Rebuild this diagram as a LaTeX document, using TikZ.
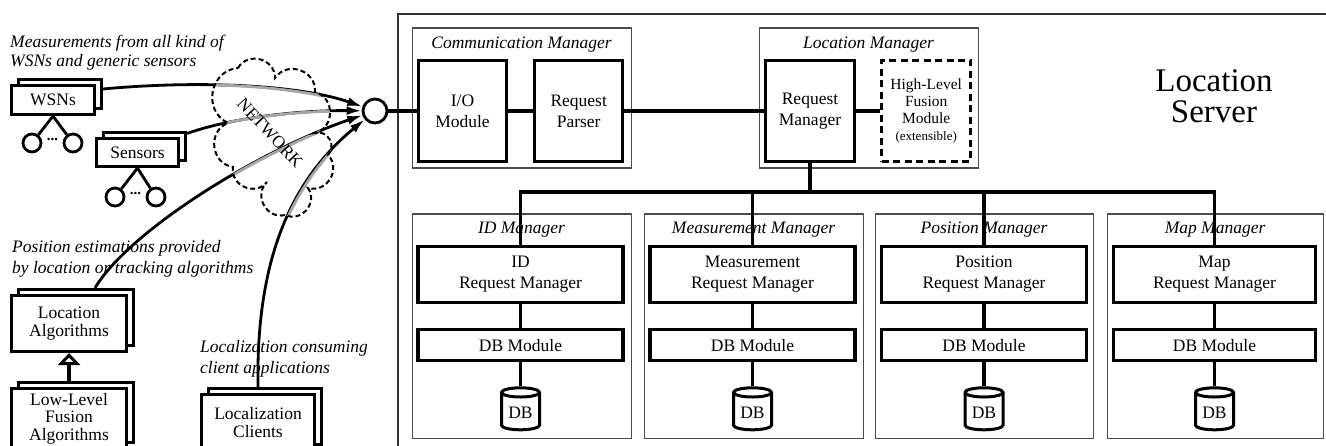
\documentclass[tikz,border=0pt]{standalone}
\usepackage{fontspec}
\setmainfont{Liberation Serif}
\usepackage{tikz}
\usetikzlibrary{shapes.geometric, arrows.meta, positioning, shadows}

% outline of the network cloud (pixel grid of the layout)
\newcommand{\netcloud}{(238,68) to[puff] (275,78) to[puff] (315,92) to[puff] (315,133) to[puff] (328,155) to[puff] (308,188) to[puff] (285,215) to[puff] (267,182) to[puff] (233,167) to[puff] (228,123) to[puff] (238,68) -- cycle}

\begin{document}
\begin{tikzpicture}[x=1pt, y=-1pt, node distance=24pt,
    font=\fontsize{17.5}{21}\selectfont,
    puff/.style={bend left=75, looseness=1.3},
    modbox/.style={draw, rectangle, line width=3.2pt, fill=white, align=center, inner sep=2pt},
    stackbox/.style={modbox, font=\fontsize{17.5}{17.5}\selectfont,
        copy shadow={draw, fill=white, opacity=1, line width=3.2pt, shadow xshift=7pt, shadow yshift=6pt}},
    mgrbox/.style={draw=black!70, line width=1.1pt, rectangle, anchor=north west},
    mgrtitle/.style={font=\fontsize{17.5}{21}\selectfont\itshape},
    notetext/.style={align=left, anchor=west, inner sep=0pt, font=\fontsize{17.5}{21}\selectfont\itshape},
    wire/.style={line width=3.4pt},
    feed/.style={line width=2.8pt, -{Latex[length=15pt, width=9pt]}},
    leafnode/.style={draw, circle, line width=2.8pt, minimum size=18pt, inner sep=0pt},
    dbstore/.style={draw, cylinder, shape border rotate=90, aspect=0.35, line width=3pt, minimum width=38pt, minimum height=42pt, inner sep=1pt, fill=white}]

    \useasboundingbox (0,0) rectangle (1326,446);
    \clip (0,0) rectangle (1326,446);

    % Server frame
    \draw[black!80, line width=1.4pt] (1340,14) -- (398,14) -- (398,460);
    \node[align=center, font=\fontsize{33}{31}\selectfont] (server) at (1214,96) {Location\\Server};

    % Upper managers
    \node[mgrbox, minimum width=219pt, minimum height=140pt] (comm) at (411.5,27.5) {};
    \node[mgrtitle, below=6pt of comm.north] (commtitle) {Communication Manager};
    \node[mgrbox, minimum width=219pt, minimum height=140pt] (locm) at (758.5,27.5) {};
    \node[mgrtitle, below=6pt of locm.north] (locmtitle) {Location Manager};

    \node[modbox, minimum width=88pt, minimum height=101pt] (io) at (462.5,111) {I/O\\Module};
    \node[modbox, minimum width=88pt, minimum height=101pt, right=25pt of io] (parser) {Request\\Parser};
    \node[modbox, minimum width=89pt, minimum height=101pt] (reqman) at (810,111) {Request\\Manager};
    \node[modbox, minimum width=89pt, minimum height=101pt, right=24pt of reqman, dash pattern=on 7pt off 4.5pt,
        font=\fontsize{15.5}{17}\selectfont] (fusion) {High-Level\\Fusion\\Module\\{\fontsize{13}{15}\selectfont(extensible)}};

    % Lower managers
    \node[mgrbox, minimum width=219pt, minimum height=224pt] (idm) at (411.5,213.5) {};
    \node[mgrtitle, below=5pt of idm.north] (idtitle) {ID Manager};
    \node[mgrbox, minimum width=219pt, minimum height=224pt] (measm) at (643.5,213.5) {};
    \node[mgrtitle, below=5pt of measm.north] (meastitle) {Measurement Manager};
    \node[mgrbox, minimum width=218pt, minimum height=224pt] (posm) at (874.5,213.5) {};
    \node[mgrtitle, below=5pt of posm.north] (postitle) {Position Manager};
    \node[mgrbox, minimum width=216pt, minimum height=224pt] (mapm) at (1106.5,213.5) {};
    \node[mgrtitle, below=5pt of mapm.north] (maptitle) {Map Manager};

    \node[modbox, minimum width=205pt, minimum height=56pt] (idreq) at (520.5,274.5) {ID\\Request Manager};
    \node[modbox, minimum width=205pt, minimum height=31pt, below=of idreq] (iddbm) {DB Module};
    \node[dbstore, below=24pt of iddbm] (iddb) {DB};

    \node[modbox, minimum width=205pt, minimum height=56pt] (measreq) at (752.5,274.5) {Measurement\\Request Manager};
    \node[modbox, minimum width=205pt, minimum height=31pt, below=of measreq] (measdbm) {DB Module};
    \node[dbstore, below=24pt of measdbm] (measdb) {DB};

    \node[modbox, minimum width=205pt, minimum height=56pt] (posreq) at (984,274.5) {Position\\Request Manager};
    \node[modbox, minimum width=205pt, minimum height=31pt, below=of posreq] (posdbm) {DB Module};
    \node[dbstore, below=24pt of posdbm] (posdb) {DB};

    \node[modbox, minimum width=202pt, minimum height=56pt] (mapreq) at (1214.5,274.5) {Map\\Request Manager};
    \node[modbox, minimum width=202pt, minimum height=31pt, below=of mapreq] (mapdbm) {DB Module};
    \node[dbstore, below=24pt of mapdbm] (mapdb) {DB};

    % Server links
    \coordinate (bus) at (810,192);
    \draw[wire] (io) -- (parser);
    \draw[wire] (parser) -- (reqman);
    \draw[wire] (reqman) -- (fusion);
    \draw[wire] (reqman.south) -- (bus);
    \draw[wire] (idreq.north) |- (bus) -| (mapreq.north);
    \draw[wire] (measreq.north) -- (measreq.north |- bus);
    \draw[wire] (posreq.north) -- (posreq.north |- bus);
    \draw[wire] (idreq) -- (iddbm);
    \draw[wire] (iddbm) -- (iddb);
    \draw[wire] (measreq) -- (measdbm);
    \draw[wire] (measdbm) -- (measdb);
    \draw[wire] (posreq) -- (posdbm);
    \draw[wire] (posdbm) -- (posdb);
    \draw[wire] (mapreq) -- (mapdbm);
    \draw[wire] (mapdbm) -- (mapdb);

    % Sources
    \node[notetext, font=\fontsize{17.5}{19}\selectfont\itshape] (wsnnote) at (10,53) {Measurements from all kind of\\WSNs and generic sensors};
    \node[stackbox, minimum width=83pt, minimum height=29pt] (wsns) at (53,100) {WSNs};
    \node[leafnode] (wsnleafa) at (32,143) {};
    \node[leafnode] (wsnleafb) at (73,143) {};
    \node[font=\fontsize{15}{15}\selectfont\bfseries, inner sep=0pt] (wsndots) at (52.5,139) {...};
    \draw[line width=2.8pt] (wsns.south) -- (wsnleafa);
    \draw[line width=2.8pt] (wsns.south) -- (wsnleafb);

    \node[stackbox, minimum width=82pt, minimum height=28pt] (sensors) at (137.5,152.5) {Sensors};
    \node[leafnode] (senleafa) at (115,197) {};
    \node[leafnode] (senleafb) at (156,197) {};
    \node[font=\fontsize{15}{15}\selectfont\bfseries, inner sep=0pt] (sendots) at (135.5,193) {...};
    \draw[line width=2.8pt] (sensors.south) -- (senleafa);
    \draw[line width=2.8pt] (sensors.south) -- (senleafb);

    \node[notetext] (posnote) at (12,259) {Position estimations provided\\by location or tracking algorithms};
    \node[stackbox, minimum width=115pt, minimum height=56pt] (localg) at (69,323.5) {Location\\Algorithms};
    \node[stackbox, minimum width=115pt, minimum height=60pt, below=34pt of localg] (lowlevel) {Low-Level\\Fusion\\Algorithms};
    \draw[line width=3.4pt, -{Triangle[open, length=12pt, width=22pt, line width=3pt]}] ([yshift=6pt]lowlevel.north) -- (localg);

    \node[notetext] (clinote) at (200,358.5) {Localization consuming\\client applications};
    \node[stackbox, minimum width=113pt, minimum height=56pt] (clients) at (258,422.5) {Localization\\Clients};

    % Hub and network
    \node[draw, circle, line width=2.8pt, minimum size=24pt, inner sep=0pt] (hub) at (375,111) {};
    \draw[wire] (hub) -- (io);

    \draw[feed] ([shift={(7pt,11pt)}]wsns.east) .. controls (200,80) and (300,85) .. (hub);
    \draw[feed] ([shift={(7pt,19pt)}]sensors.east) .. controls (230,118) and (300,110) .. (hub);
    \draw[feed] ([shift={(26pt,6pt)}]localg.north) .. controls (130,230) and (260,150) .. (hub);
    \draw[feed] ([yshift=6pt]clients.north) .. controls (256,270) and (285,185) .. (hub);

    \begin{scope}
        \clip \netcloud;
        \draw[line width=2.8pt, black!35] ([shift={(7pt,11pt)}]wsns.east) .. controls (200,80) and (300,85) .. (hub);
        \draw[line width=2.8pt, black!35] ([shift={(7pt,19pt)}]sensors.east) .. controls (230,118) and (300,110) .. (hub);
        \draw[line width=2.8pt, black!35] ([shift={(26pt,6pt)}]localg.north) .. controls (130,230) and (260,150) .. (hub);
        \draw[line width=2.8pt, black!35] ([yshift=6pt]clients.north) .. controls (256,270) and (285,185) .. (hub);
    \end{scope}
    \draw[line width=2pt, dash pattern=on 5pt off 3pt] \netcloud;
    \node[rotate=-47, inner sep=0pt] (network) at (270,133) {NETWORK};
\end{tikzpicture}
\end{document}
